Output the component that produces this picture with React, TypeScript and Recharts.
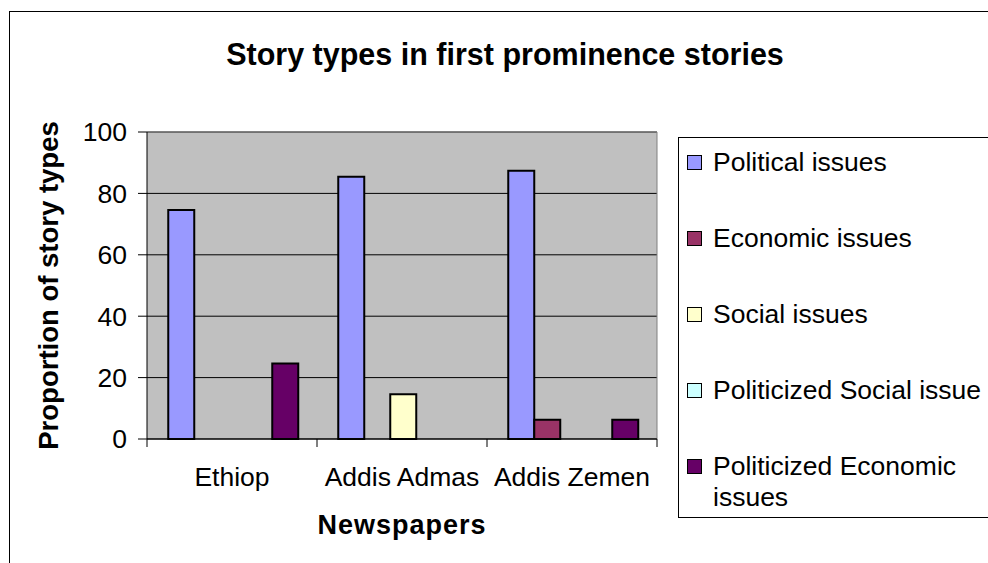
import { BarChart, Bar, XAxis, YAxis, CartesianGrid, Legend, ReferenceLine } from "recharts";

const categories = ["Ethiop", "Addis Admas", "Addis Zemen"];
const political = [74.6, 85.4, 87.4];
const economic = [0, 0, 6.25];
const social = [0, 14.6, 0];
const politicizedSocial = [0, 0, 0];
const politicizedEconomic = [24.6, 0, 6.25];

const yTicks = [0, 20, 40, 60, 80, 100];

const series = [
  { key: "political", name: "Political issues", color: "#9999FF" },
  { key: "economic", name: "Economic issues", color: "#993366" },
  { key: "social", name: "Social issues", color: "#FFFFCC" },
  { key: "politicizedSocial", name: "Politicized Social issue", color: "#CCFFFF" },
  { key: "politicizedEconomic", name: "Politicized Economic issues", color: "#660066" },
];

const data = categories.map((name, i) => ({
  name,
  political: political[i],
  economic: economic[i],
  social: social[i],
  politicizedSocial: politicizedSocial[i],
  politicizedEconomic: politicizedEconomic[i],
}));

const font = "Arial, 'Liberation Sans', sans-serif";
const TICK_SIZE = 8;
const TICK_MARGIN = 20;

// category label plus tick marks on the category boundaries (Excel style)
function CategoryTick(props: any) {
  const { x, y, payload, index, visibleTicksCount } = props;
  const half = payload.offset || 0;
  const axisY = y - TICK_SIZE - TICK_MARGIN;
  const last = index === visibleTicksCount - 1;
  return (
    <g>
      <line x1={x - half} x2={x - half} y1={axisY} y2={axisY + TICK_SIZE} stroke="#000" />
      {last && <line x1={x + half} x2={x + half} y1={axisY} y2={axisY + TICK_SIZE} stroke="#000" />}
      <text x={x} y={y} dy="0.71em" textAnchor="middle" fill="#000" fontSize={26.5} fontFamily={font}>
        {payload.value}
      </text>
    </g>
  );
}

function LegendBox(props: any) {
  const order = series.map((s) => s.name);
  const items = [...(props.payload || [])].sort(
    (a: any, b: any) => order.indexOf(a.value) - order.indexOf(b.value)
  );
  return (
    <div style={{ paddingTop: 9, paddingLeft: 8, fontFamily: font, fontSize: 26.5, lineHeight: "31px", color: "#000" }}>
      {items.map((item: any, i: number) => (
        <div key={i} style={{ display: "flex", alignItems: "flex-start", marginBottom: 45 }}>
          <span
            style={{
              display: "inline-block",
              width: 13,
              height: 13,
              border: "1.5px solid #000",
              background: item.color,
              marginTop: 8,
              marginRight: 11,
              flex: "none",
            }}
          />
          <span style={{ maxWidth: 272 }}>{item.value}</span>
        </div>
      ))}
    </div>
  );
}

export default function App() {
  return (
    <div style={{ position: "absolute", left: 0, top: 0, width: 988, height: 563, overflow: "hidden", background: "#fff" }}>
      <div style={{ position: "absolute", left: 9, top: 11, width: 1100, height: 700, border: "1px solid #000" }} />
      <div
        style={{
          position: "absolute",
          left: 0,
          top: 39,
          width: 1010,
          textAlign: "center",
          fontFamily: font,
          fontWeight: "bold",
          fontSize: 30.5,
          lineHeight: 1,
        }}
      >
        Story types in first prominence stories
      </div>
      <div style={{ position: "absolute", left: 0, top: 0 }}>
        <BarChart
          width={988}
          height={563}
          data={data}
          margin={{ top: 132, right: 331, left: 47, bottom: 24 }}
          barGap={0}
          barCategoryGap="12.5%"
          style={{ fontFamily: font }}
        >
          <CartesianGrid vertical={false} stroke="#000" fill="#C0C0C0" fillOpacity={1} />
          <XAxis
            dataKey="name"
            height={100}
            tickLine={false}
            tickSize={TICK_SIZE}
            tickMargin={TICK_MARGIN}
            axisLine={{ stroke: "#000" }}
            tick={<CategoryTick />}
            label={{
              value: "Newspapers",
              position: "insideBottom",
              offset: 5,
              fill: "#000",
              fontSize: 27,
              fontWeight: "bold",
              letterSpacing: 1,
            }}
          />
          <YAxis
            width={100}
            domain={[0, 100]}
            ticks={yTicks}
            tickSize={9}
            tickMargin={11}
            axisLine={{ stroke: "#000" }}
            tickLine={{ stroke: "#000" }}
            tick={{ fill: "#000", fontSize: 26.5 }}
            label={{
              value: "Proportion of story types",
              angle: -90,
              position: "center",
              dx: -49,
              fill: "#000",
              fontSize: 27.5,
              fontWeight: "bold",
            }}
          />
          <ReferenceLine y={100} stroke="#808080" />
          <ReferenceLine x={categories[categories.length - 1]} position="end" stroke="#808080" />
          {series.map((s) => (
            <Bar
              key={s.key}
              dataKey={s.key}
              name={s.name}
              fill={s.color}
              stroke="#000"
              strokeWidth={2}
              isAnimationActive={false}
            />
          ))}
          <Legend
            layout="vertical"
            align="center"
            verticalAlign="middle"
            content={<LegendBox />}
            wrapperStyle={{
              left: 678,
              top: 137,
              width: 400,
              height: 381,
              border: "1px solid #000",
              background: "#fff",
              boxSizing: "border-box",
            }}
          />
        </BarChart>
      </div>
    </div>
  );
}
